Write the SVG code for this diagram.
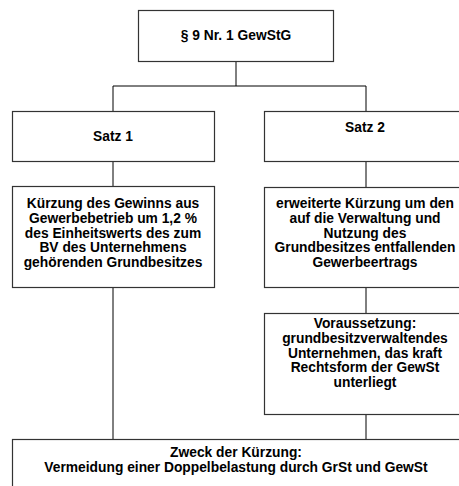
<svg xmlns="http://www.w3.org/2000/svg" width="459" height="486" viewBox="0 0 459 486">
<style>
.box{fill:#fff;stroke:#333;stroke-width:1.2}
.t{font-family:"Liberation Sans",Arial,sans-serif;font-weight:bold;font-size:13.8px;fill:#000;text-anchor:middle}
.c{stroke:#000;stroke-width:1;fill:none}
</style>
<rect width="459" height="486" fill="#fff"/>
<g id="connectors">
<path class="c" d="M236,61V86M113,86H366M113,86V111M366,86V111"/>
<path class="c" d="M113,161V186M366,161V187"/>
<path class="c" d="M113,287V439M366,287V313M366,414V439"/>
</g>
<g id="n1"><rect class="box" x="138.5" y="10.5" width="195" height="51"/><text class="t" x="236" y="40">§ 9 Nr. 1 GewStG</text></g>
<g id="n2"><rect class="box" x="12.5" y="111.5" width="202" height="50"/><text class="t" x="113" y="141">Satz 1</text></g>
<g id="n3"><rect class="box" x="264.5" y="111.5" width="200" height="50"/><text class="t" x="365" y="132">Satz 2</text></g>
<g id="n4"><rect class="box" x="12.5" y="186.5" width="202" height="101"/>
<text class="t" x="113" y="208">Kürzung des Gewinns aus</text>
<text class="t" x="113" y="222.75">Gewerbebetrieb um 1,2 %</text>
<text class="t" x="113" y="237.5">des Einheitswerts des zum</text>
<text class="t" x="113" y="252.25">BV des Unternehmens</text>
<text class="t" x="113" y="267">gehörenden Grundbesitzes</text></g>
<g id="n5"><rect class="box" x="264.5" y="187.5" width="200" height="100"/>
<text class="t" x="365" y="208">erweiterte Kürzung um den</text>
<text class="t" x="365" y="222.75">auf die Verwaltung und</text>
<text class="t" x="365" y="237.5">Nutzung des</text>
<text class="t" x="365" y="252.25">Grundbesitzes entfallenden</text>
<text class="t" x="365" y="267">Gewerbeertrags</text></g>
<g id="n6"><rect class="box" x="264.5" y="313.5" width="200" height="101"/>
<text class="t" x="365" y="328">Voraussetzung:</text>
<text class="t" x="365" y="342.75">grundbesitzverwaltendes</text>
<text class="t" x="365" y="357.5">Unternehmen, das kraft</text>
<text class="t" x="365" y="372.25">Rechtsform der GewSt</text>
<text class="t" x="365" y="387">unterliegt</text></g>
<g id="n7"><rect class="box" x="12.5" y="439.5" width="452" height="60"/>
<text class="t" x="236" y="457">Zweck der Kürzung:</text>
<text class="t" x="236" y="471.75">Vermeidung einer Doppelbelastung durch GrSt und GewSt</text></g>
</svg>
